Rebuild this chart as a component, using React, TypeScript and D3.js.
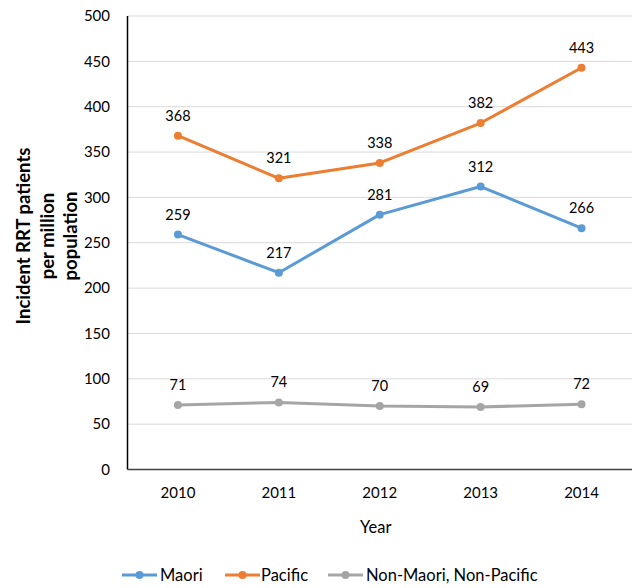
import React from "react";
import * as d3 from "d3";

const years = ["2010", "2011", "2012", "2013", "2014"];
const maori = [259, 217, 281, 312, 266];
const pacific = [368, 321, 338, 382, 443];
const nonMaoriNonPacific = [71, 74, 70, 69, 72];
const yTicks = [0, 50, 100, 150, 200, 250, 300, 350, 400, 450, 500];

const seriesList = [
  { name: "Maori", values: maori, color: "#5B9BD5" },
  { name: "Pacific", values: pacific, color: "#ED7D31" },
  { name: "Non-Maori, Non-Pacific", values: nonMaoriNonPacific, color: "#A5A5A5" },
];

const W = 636;
const H = 588;
const left = 127.5;
const right = 632;
const top = 16;
const bottom = 469.5;
const FONT = "Lato, 'Open Sans', 'Liberation Sans', sans-serif";

export default function App() {
  const x = d3.scaleBand<string>().domain(years).range([left, right]).padding(0);
  const y = d3.scaleLinear().domain([0, 500]).range([bottom, top]);
  const cx = (yr: string) => (x(yr) ?? 0) + x.bandwidth() / 2;
  const line = d3
    .line<number>()
    .x((_, i) => cx(years[i]))
    .y((v) => y(v));

  const legendItems = [
    { lineX: 122, textX: 160 },
    { lineX: 225, textX: 261 },
    { lineX: 328, textX: 366 },
  ];

  return (
    <svg
      width={W}
      height={H}
      style={{ position: "absolute", left: 0, top: 0, background: "#fff" }}
      fontFamily={FONT}
    >
      {/* gridlines */}
      {yTicks.slice(1).map((t) => (
        <line key={t} x1={left} x2={right} y1={y(t)} y2={y(t)} stroke="#d9d9d9" strokeWidth={1} />
      ))}
      {/* axes */}
      <line x1={left} x2={left} y1={top} y2={bottom} stroke="#000" strokeWidth={1.5} />
      <line x1={left} x2={right} y1={bottom} y2={bottom} stroke="#404040" strokeWidth={1.5} />
      {yTicks.map((t) => (
        <text key={t} x={110} y={y(t)} dy="0.35em" textAnchor="end" fontSize={15} fill="#000">
          {t}
        </text>
      ))}
      {years.map((yr) => (
        <text key={yr} x={cx(yr)} y={493} dy="0.35em" textAnchor="middle" fontSize={15} fill="#000">
          {yr}
        </text>
      ))}
      <text x={(left + right) / 2 - 4} y={527} dy="0.35em" textAnchor="middle" fontSize={16.5} fill="#000">
        Year
      </text>
      {/* y axis title */}
      <g transform="translate(0,236) rotate(-90)" fontWeight="bold" fontSize={18.5} fill="#000" textAnchor="middle">
        <text x={0} y={24} dy="0.35em">Incident RRT patients</text>
        <text x={0} y={48} dy="0.35em">per million</text>
        <text x={0} y={71} dy="0.35em">population</text>
      </g>
      {/* series */}
      {seriesList.map((s) => (
        <g key={s.name}>
          <path d={line(s.values) ?? ""} fill="none" stroke={s.color} strokeWidth={3} strokeLinejoin="round" />
          {s.values.map((v, i) => (
            <circle key={i} cx={cx(years[i])} cy={y(v)} r={4} fill={s.color} />
          ))}
          {s.values.map((v, i) => (
            <text
              key={"l" + i}
              x={cx(years[i])}
              y={y(v) - 20}
              dy="0.35em"
              textAnchor="middle"
              fontSize={14.5}
              fill="#000"
            >
              {v}
            </text>
          ))}
        </g>
      ))}
      {/* legend */}
      {seriesList.map((s, i) => (
        <g key={"lg" + s.name}>
          <line
            x1={legendItems[i].lineX}
            x2={legendItems[i].lineX + 35}
            y1={575}
            y2={575}
            stroke={s.color}
            strokeWidth={3}
          />
          <circle cx={legendItems[i].lineX + 17.5} cy={575} r={4} fill={s.color} />
          <text x={legendItems[i].textX} y={575} dy="0.35em" fontSize={16.5} fill="#000">
            {s.name}
          </text>
        </g>
      ))}
    </svg>
  );
}
